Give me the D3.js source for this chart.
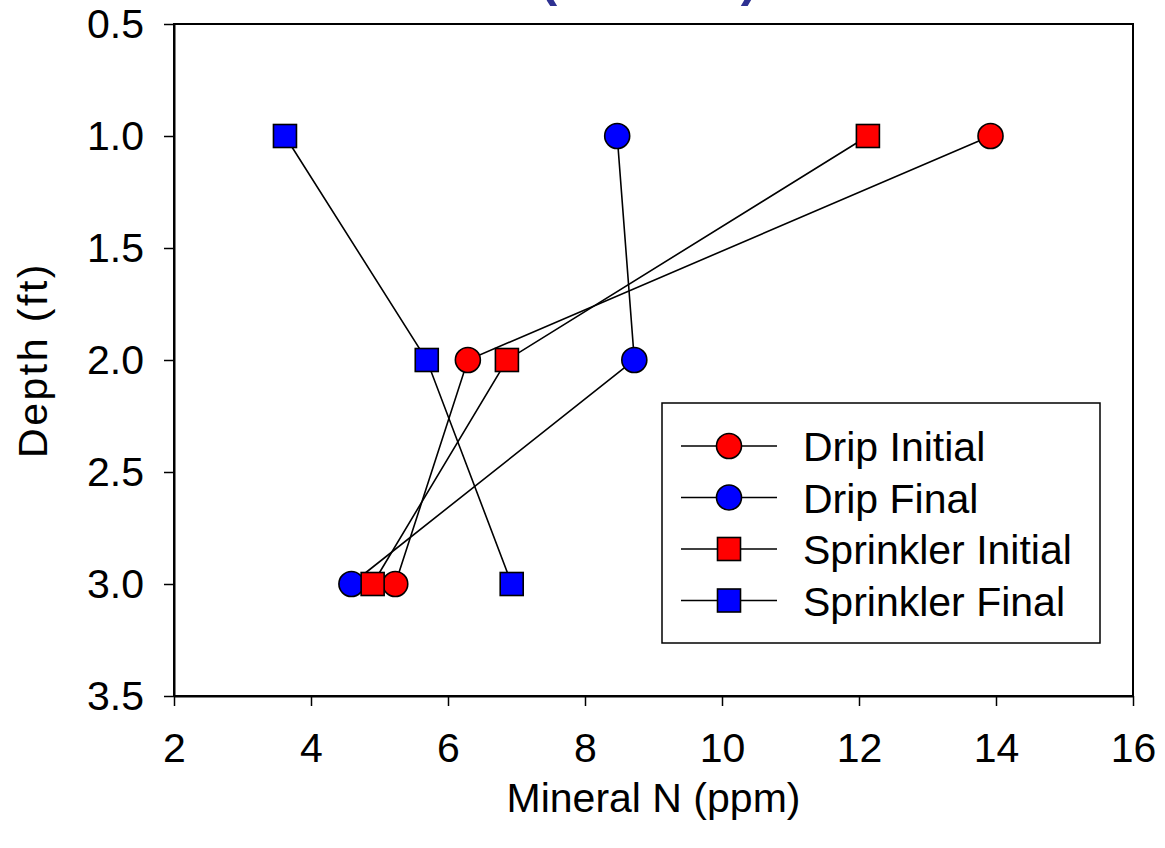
<!DOCTYPE html>
<html><head><meta charset="utf-8">
<script src="https://cdn.jsdelivr.net/npm/d3@7"></script>
<style>body{margin:0;background:#fff}svg{display:block}text{font-family:"Liberation Sans",Arial,sans-serif}</style>
</head><body>
<script>
const depths = [1.0, 2.0, 3.0];
const seriesNames = ["Drip Initial", "Drip Final", "Sprinkler Initial", "Sprinkler Final"];
const dripInitial = [13.92, 6.29, 5.23];
const dripFinal = [8.47, 8.72, 4.59];
const sprinklerInitial = [12.13, 6.86, 4.9];
const sprinklerFinal = [3.62, 5.69, 6.93];
const seriesColors = ["#ff0000", "#0000ff", "#ff0000", "#0000ff"];
const seriesShapes = ["circle", "circle", "square", "square"];
const xTicks = [2, 4, 6, 8, 10, 12, 14, 16];
const yTicks = [0.5, 1.0, 1.5, 2.0, 2.5, 3.0, 3.5];
const titleText = "(2004-05)";

const W = 1165, H = 848;
const m = {l: 174, r: 1133, t: 24, b: 696};
const FS = 41;
const svg = d3.select("body").append("svg").attr("width", W).attr("height", H);
const x = d3.scaleLinear().domain([2, 16]).range([m.l, m.r]);
const y = d3.scaleLinear().domain([0.5, 3.5]).range([m.t, m.b]);

// title (cut off at the top edge, as in the original)
svg.append("text").attr("x", 649).attr("y", -4).attr("text-anchor", "middle")
  .attr("font-size", 50).attr("font-weight", "bold").attr("fill", "#2e3192").text(titleText);

// frame
svg.append("rect").attr("x", m.l).attr("y", m.t).attr("width", m.r - m.l).attr("height", m.b - m.t)
  .attr("fill", "none").attr("stroke", "#000").attr("stroke-width", 2);

const xAxis = svg.append("g").attr("transform", `translate(0,${m.b})`)
  .call(d3.axisBottom(x).tickValues(xTicks).tickSize(10).tickSizeOuter(0).tickPadding(27).tickFormat(d3.format("d")));
const yAxis = svg.append("g").attr("transform", `translate(${m.l},0)`)
  .call(d3.axisLeft(y).tickValues(yTicks).tickSize(10).tickSizeOuter(0).tickPadding(20).tickFormat(d3.format(".1f")));
[xAxis, yAxis].forEach(a => {
  a.attr("font-size", null).attr("font-family", null);
  a.select(".domain").attr("stroke-width", 2);
  a.selectAll(".tick line").attr("stroke-width", 1.5);
  a.selectAll("text").attr("font-size", FS).attr("fill", "#000");
});

svg.append("text").attr("x", (m.l + m.r) / 2).attr("y", 812).attr("text-anchor", "middle")
  .attr("font-size", FS).text("Mineral N (ppm)");
svg.append("text").attr("transform", `translate(47,${(m.t + m.b) / 2}) rotate(-90)`).attr("text-anchor", "middle")
  .attr("font-size", FS).attr("letter-spacing", 2.5).text("Depth (ft)");

const series = [dripInitial, dripFinal, sprinklerInitial, sprinklerFinal];
const line = d3.line().x(d => x(d[0])).y(d => y(d[1]));
function drawMarker(g, shape, color, cx, cy) {
  if (shape === "circle") {
    g.append("circle").attr("cx", cx).attr("cy", cy).attr("r", 12.5)
      .attr("fill", color).attr("stroke", "#000").attr("stroke-width", 1.6);
  } else {
    g.append("rect").attr("x", cx - 11.5).attr("y", cy - 11.5).attr("width", 23).attr("height", 23)
      .attr("fill", color).attr("stroke", "#000").attr("stroke-width", 1.6);
  }
}
series.forEach((vals, i) => {
  const pts = vals.map((v, j) => [v, depths[j]]);
  svg.append("path").attr("d", line(pts)).attr("fill", "none").attr("stroke", "#000").attr("stroke-width", 1.6);
});
series.forEach((vals, i) => {
  const g = svg.append("g");
  vals.forEach((v, j) => drawMarker(g, seriesShapes[i], seriesColors[i], x(v), y(depths[j])));
});

// legend
const lg = svg.append("g");
lg.append("rect").attr("x", 662).attr("y", 403).attr("width", 438).attr("height", 240)
  .attr("fill", "#fff").attr("stroke", "#000").attr("stroke-width", 1.5);
seriesNames.forEach((name, i) => {
  const cy = 446 + i * 51.5;
  lg.append("line").attr("x1", 681).attr("x2", 777).attr("y1", cy).attr("y2", cy)
    .attr("stroke", "#000").attr("stroke-width", 1.6);
  drawMarker(lg, seriesShapes[i], seriesColors[i], 729, cy);
  lg.append("text").attr("x", 803).attr("y", cy + 15).attr("font-size", FS).text(name);
});
</script>
</body></html>
